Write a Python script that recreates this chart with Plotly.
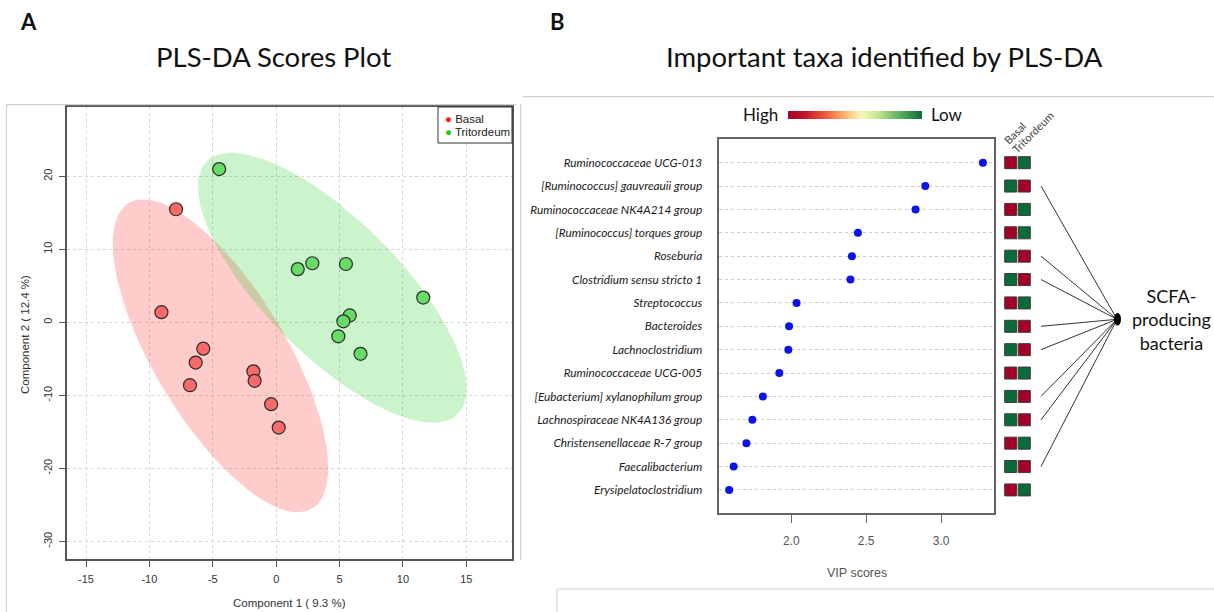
import numpy as np
import plotly.graph_objects as go

W, H = 1214, 612

# ---------------- Panel A: PLS-DA scores ----------------
basal_c1 = [-7.9, -9.05, -5.75, -6.35, -6.8, -1.8, -1.7, -0.4, 0.2]
basal_c2 = [15.5, 1.4, -3.6, -5.5, -8.6, -6.7, -8.0, -11.2, -14.4]
trit_c1 = [-4.5, 1.7, 2.85, 5.5, 11.6, 5.8, 5.3, 4.9, 6.65]
trit_c2 = [21.0, 7.3, 8.1, 8.0, 3.4, 0.95, 0.15, -1.9, -4.3]

x_ticks_a = [-15, -10, -5, 0, 5, 10, 15]
x_ticktext_a = ["-15", "-10", "-5", "0", "5", "10", "15"]
y_ticks_a = [-30, -20, -10, 0, 10, 20]
y_ticktext_a = ["-30", "-20", "-10", "0", "10", "20"]

# ---------------- Panel B: VIP scores ----------------
taxa = [
    "Ruminococcaceae UCG-013",
    "[Ruminococcus] gauvreauii group",
    "Ruminococcaceae NK4A214 group",
    "[Ruminococcus] torques group",
    "Roseburia",
    "Clostridium sensu stricto 1",
    "Streptococcus",
    "Bacteroides",
    "Lachnoclostridium",
    "Ruminococcaceae UCG-005",
    "[Eubacterium] xylanophilum group",
    "Lachnospiraceae NK4A136 group",
    "Christensenellaceae R-7 group",
    "Faecalibacterium",
    "Erysipelatoclostridium",
]
vip = [3.28, 2.895, 2.83, 2.445, 2.405, 2.395, 2.035, 1.985, 1.98,
       1.92, 1.81, 1.74, 1.70, 1.615, 1.585]
basal_level = ["High", "Low", "High", "High", "Low", "Low", "High", "Low",
               "Low", "High", "Low", "Low", "High", "Low", "High"]
trit_level = ["Low", "High", "Low", "Low", "High", "High", "Low", "High",
              "High", "Low", "High", "High", "Low", "High", "Low"]
scfa_producer = [False, True, False, False, True, True, False, True,
                 True, False, True, True, False, True, False]
vip_ticks = [2.0, 2.5, 3.0]
groups = ["Basal", "Tritordeum"]

rows = list(range(1, len(taxa) + 1))
level_code = {"High": 0, "Low": 1}


def px(xp):
    return xp / W


def py(yp):
    return 1 - yp / H


def conf_ellipse(x, y, level=0.95, n=120):
    """95% normal-theory confidence ellipse of a 2-D point cloud."""
    x = np.asarray(x, float)
    y = np.asarray(y, float)
    cov = np.cov(x, y)
    t = np.sqrt(-2 * np.log(1 - level))  # chi-square quantile, 2 df
    vals, vecs = np.linalg.eigh(cov)
    ang = np.linspace(0, 2 * np.pi, n)
    circ = np.vstack([np.cos(ang), np.sin(ang)])
    pts = vecs @ (np.sqrt(vals)[:, None] * circ) * t
    return pts[0] + x.mean(), pts[1] + y.mean()


fig = go.Figure()

# confidence ellipses
ex, ey = conf_ellipse(basal_c1, basal_c2)
fig.add_trace(go.Scatter(x=ex, y=ey, mode="lines", fill="toself",
                         fillcolor="rgba(255,0,0,0.2)", line=dict(width=0),
                         hoverinfo="skip", showlegend=False, xaxis="x", yaxis="y"))
ex, ey = conf_ellipse(trit_c1, trit_c2)
fig.add_trace(go.Scatter(x=ex, y=ey, mode="lines", fill="toself",
                         fillcolor="rgba(0,200,0,0.2)", line=dict(width=0),
                         hoverinfo="skip", showlegend=False, xaxis="x", yaxis="y"))

# sample scores
fig.add_trace(go.Scatter(x=basal_c1, y=basal_c2, mode="markers", name="Basal",
                         marker=dict(size=13, color="#F86A6A",
                                     line=dict(color="#2a2a2a", width=1.2)),
                         showlegend=False, xaxis="x", yaxis="y"))
fig.add_trace(go.Scatter(x=trit_c1, y=trit_c2, mode="markers", name="Tritordeum",
                         marker=dict(size=13, color="#66DB66",
                                     line=dict(color="#2a2a2a", width=1.2)),
                         showlegend=False, xaxis="x", yaxis="y"))

# VIP dot chart
fig.add_trace(go.Scatter(x=vip, y=rows, mode="markers",
                         marker=dict(size=8, color="#0A14E6"),
                         showlegend=False, xaxis="x2", yaxis="y2"))

# group abundance squares
colorscale = [[0.0, "#A50026"], [0.12, "#C0142C"], [0.28, "#EE5A3A"],
              [0.42, "#FDB46A"], [0.55, "#F7F8BC"], [0.68, "#BDE28E"],
              [0.83, "#5CB25E"], [1.0, "#0B6B38"]]
sq_x, sq_y, sq_c = [], [], []
for gi, lev in enumerate([basal_level, trit_level]):
    for r, l in zip(rows, lev):
        sq_x.append(gi + 1)
        sq_y.append(r)
        sq_c.append(level_code[l])
fig.add_trace(go.Scatter(
    x=sq_x, y=sq_y, mode="markers", showlegend=False, xaxis="x3", yaxis="y2",
    marker=dict(symbol="square", size=12, color=sq_c, cmin=0, cmax=1,
                colorscale=colorscale, line=dict(color="#3a3a3a", width=1),
                showscale=True,
                colorbar=dict(orientation="h", thickness=8, len=134, lenmode="pixels",
                              x=px(855), xanchor="center", y=py(114.5), yanchor="middle",
                              xpad=0, ypad=0, showticklabels=False, ticks="",
                              outlinewidth=0))))

axis_font_a = dict(family="Liberation Sans, Arial", size=11, color="#333")

fig.update_layout(
    width=W, height=H, autosize=False,
    margin=dict(l=0, r=0, t=0, b=0),
    paper_bgcolor="white", plot_bgcolor="white",
    xaxis=dict(domain=[px(67), px(512)], range=[-16.5, 18.6], anchor="y",
               tickvals=x_ticks_a, ticktext=x_ticktext_a, ticks="outside", ticklen=6,
               tickcolor="#555", tickfont=axis_font_a, ticklabelstandoff=3,
               showline=True, mirror=True, linecolor="#555", linewidth=1.5,
               showgrid=True, gridcolor="#D6D6D6", griddash="dot", gridwidth=1,
               zeroline=False),
    yaxis=dict(domain=[py(559), py(107)], range=[-32.4, 29.5], anchor="x",
               tickvals=y_ticks_a, ticktext=y_ticktext_a, ticks="outside", ticklen=6,
               tickcolor="#555", tickfont=axis_font_a, tickangle=-90, ticklabelstandoff=3,
               showline=True, mirror=True, linecolor="#555", linewidth=1.5,
               showgrid=True, gridcolor="#D6D6D6", griddash="dot", gridwidth=1,
               zeroline=False),
    xaxis2=dict(domain=[px(719.3), px(994)], range=[1.519, 3.354], anchor="y2",
                tickvals=vip_ticks, ticktext=["2.0", "2.5", "3.0"], ticks="outside",
                ticklen=8, tickcolor="#666",
                tickfont=dict(family="Liberation Sans, Arial", size=12, color="#555"),
                ticklabelstandoff=8,
                showline=True, mirror=True, linecolor="#666", linewidth=1.5,
                showgrid=False, zeroline=False),
    yaxis2=dict(domain=[py(513.3), py(139.3)], range=[16, 0], anchor="x2",
                tickvals=rows, ticktext=["<i>%s</i>" % t for t in taxa], ticks="",
                tickfont=dict(family="Lato", size=11.8, color="#1a1a1a"),
                ticklabelstandoff=13,
                showline=True, mirror=True, linecolor="#666", linewidth=1.5,
                showgrid=True, gridcolor="#CACACA", griddash="dot", gridwidth=1,
                zeroline=False),
    xaxis3=dict(domain=[px(1003.9), px(1031.1)], range=[0.5, 2.5], anchor="y2",
                visible=False),
)

shapes = []
# lines linking SCFA-producing taxa to the label
hub_row = 7.7
for r, flag in zip(rows, scfa_producer):
    if flag:
        shapes.append(dict(type="line", xref="paper", yref="y2",
                           x0=px(1041), y0=r, x1=px(1117), y1=hub_row,
                           line=dict(color="#333", width=1)))
shapes.append(dict(type="circle", xref="paper", yref="y2",
                   x0=px(1114), x1=px(1121), y0=hub_row - 0.27, y1=hub_row + 0.27,
                   fillcolor="black", line=dict(color="black", width=0)))

# legend box of panel A
shapes.append(dict(type="rect", xref="paper", yref="paper",
                   x0=px(438), x1=px(512), y0=py(143), y1=py(107),
                   fillcolor="white", line=dict(color="#333", width=1)))

# panel frames
frame = dict(color="#CFCFCF", width=1.2)
for (x0, y0, x1, y1) in [(6, 104.7, 516, 104.7), (6.5, 104.7, 6.5, 612),
                         (523, 96.7, 1214, 96.7), (520.7, 104, 520.7, 560),
                         (557, 589, 1214, 589), (557, 589, 557, 612)]:
    shapes.append(dict(type="line", xref="paper", yref="paper",
                       x0=px(x0), x1=px(x1), y0=py(y0), y1=py(y1), line=frame))
fig.update_layout(shapes=shapes)

ann = []
title_font = dict(family="Lato", size=27.5, color="#111")
ann.append(dict(text="<b>A</b>", x=px(28), y=py(22), font=dict(family="Lato", size=22, color="#111")))
ann.append(dict(text="<b>B</b>", x=px(557), y=py(22), font=dict(family="Lato", size=22, color="#111")))
ann.append(dict(text="PLS-DA Scores Plot", x=px(273), y=py(56), font=title_font))
ann.append(dict(text="Important taxa identified by PLS-DA", x=px(884), y=py(56), font=title_font))
ann.append(dict(text="Component 1 ( 9.3 %)", x=px(289), y=py(603),
                font=dict(family="Liberation Sans, Arial", size=11.5, color="#333")))
ann.append(dict(text="Component 2 ( 12.4 %)", x=px(25), y=py(335), textangle=-90,
                font=dict(family="Liberation Sans, Arial", size=11.5, color="#333")))
ann.append(dict(text="<span style='color:#FF1A1A'>●</span> Basal", x=px(443), y=py(119),
                xanchor="left", font=dict(family="Liberation Sans, Arial", size=11.5, color="#222")))
ann.append(dict(text="<span style='color:#1ACC1A'>●</span> Tritordeum", x=px(443), y=py(132),
                xanchor="left", font=dict(family="Liberation Sans, Arial", size=11.5, color="#222")))
ann.append(dict(text="VIP scores", x=px(857), y=py(573),
                font=dict(family="Liberation Sans, Arial", size=12.5, color="#555")))
ann.append(dict(text="High", x=px(760), y=py(114.5), font=dict(family="Lato", size=17, color="#111")))
ann.append(dict(text="Low", x=px(947), y=py(114.5), font=dict(family="Lato", size=17, color="#111")))
ann.append(dict(text="SCFA-<br>producing<br>bacteria", x=px(1171), y=py(319),
                font=dict(family="Lato", size=18, color="#111")))
ann.append(dict(text=groups[0], x=px(1014), y=py(133), textangle=-45,
                font=dict(family="Lato", size=11, color="#444")))
ann.append(dict(text=groups[1], x=px(1032), y=py(132), textangle=-45,
                font=dict(family="Lato", size=11, color="#444")))
for a in ann:
    a.setdefault("xref", "paper")
    a.setdefault("yref", "paper")
    a.setdefault("showarrow", False)
    a.setdefault("xanchor", "center")
    a.setdefault("yanchor", "middle")
fig.update_layout(annotations=ann)

fig.write_html("out.html")
